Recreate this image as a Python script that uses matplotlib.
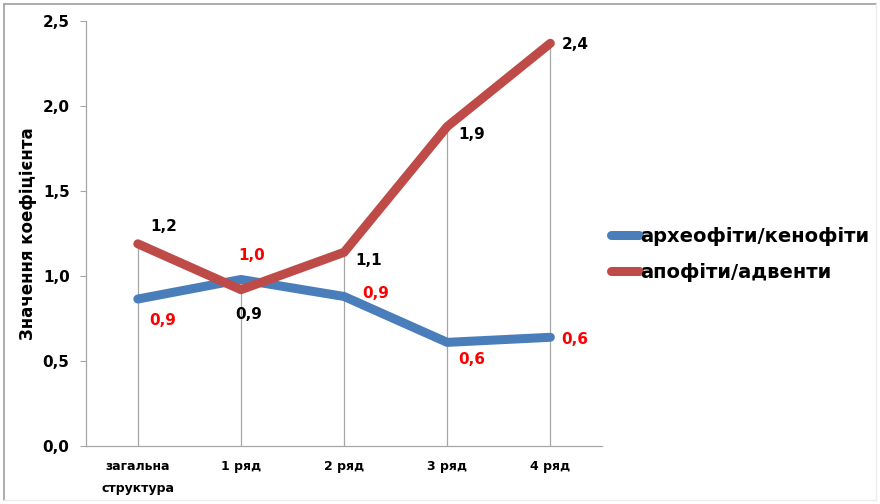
import matplotlib.pyplot as plt
from matplotlib.lines import Line2D

plt.rcParams['font.family'] = ['DejaVu Sans']
plt.rcParams['font.weight'] = 'bold'

categories = ['загальна\nструктура', '1 ряд', '2 ряд', '3 ряд', '4 ряд']
archeo_keno = [0.865, 0.98, 0.88, 0.61, 0.64]
apo_advent = [1.19, 0.92, 1.14, 1.88, 2.37]
archeo_labels = ['0,9', '1,0', '0,9', '0,6', '0,6']
apo_labels = ['1,2', '0,9', '1,1', '1,9', '2,4']
yticks = [0.0, 0.5, 1.0, 1.5, 2.0, 2.5]

blue = '#4a7ebb'
red = '#be4b48'

fig = plt.figure(figsize=(8.8, 5.04), dpi=100)
ax = fig.add_axes([0.098, 0.115, 0.586, 0.843])

x = list(range(len(categories)))

# drop lines from axis to the upper series
tops = [max(a, b) for a, b in zip(archeo_keno, apo_advent)]
ax.vlines(x, 0, tops, color='#a6a6a6', linewidth=0.9, zorder=1)

ax.plot(x, archeo_keno, color=blue, linewidth=6.5, solid_capstyle='round',
        solid_joinstyle='round', label='археофіти/кенофіти', zorder=3)
ax.plot(x, apo_advent, color=red, linewidth=6.5, solid_capstyle='round',
        solid_joinstyle='round', label='апофіти/адвенти', zorder=4)

# value labels (offsets in points)
apo_offsets = [(9, 7), (-4, -23), (8, -11), (8, -11), (8, -6)]
archeo_offsets = [(8, -21), (-2, 12), (13, -3), (8, -18), (8, -7)]
for i, (v, t) in enumerate(zip(apo_advent, apo_labels)):
    ax.annotate(t, (i, v), xytext=apo_offsets[i], textcoords='offset points',
                fontsize=11, fontweight='bold', color='black', va='bottom', ha='left')
for i, (v, t) in enumerate(zip(archeo_keno, archeo_labels)):
    ax.annotate(t, (i, v), xytext=archeo_offsets[i], textcoords='offset points',
                fontsize=11, fontweight='bold', color='#ff0000', va='bottom', ha='left')

ax.set_xlim(-0.5, len(categories) - 0.5)
ax.set_ylim(0, 2.5)
ax.set_yticks(yticks)
ax.set_yticklabels([f'{t:.1f}'.replace('.', ',') for t in yticks],
                   fontsize=11, fontweight='bold')
ax.set_xticks(x)
ax.set_xticklabels(categories, fontsize=9, fontweight='bold', linespacing=1.9)
ax.tick_params(axis='x', length=0, pad=10)
ax.tick_params(axis='y', length=4, color='#a6a6a6', pad=8)

ax.set_ylabel('Значення коефіцієнта', fontsize=12, fontweight='bold', labelpad=4)

for side in ['top', 'right']:
    ax.spines[side].set_visible(False)
ax.spines['left'].set_color('#a6a6a6')
ax.spines['bottom'].set_color('#a6a6a6')
ax.spines['left'].set_linewidth(0.9)
ax.spines['bottom'].set_linewidth(0.9)

fig.legend(loc='center left', bbox_to_anchor=(0.674, 0.495), frameon=False,
           handlelength=1.45, handletextpad=0.05, labelspacing=0.85,
           prop={'weight': 'bold', 'size': 14})

# outer border
fig.add_artist(Line2D([0.004, 0.996], [0.992, 0.992], color='#a0a0a0', linewidth=1.2,
                      transform=fig.transFigure))
fig.add_artist(Line2D([0.004, 0.004], [0.008, 0.992], color='#a0a0a0', linewidth=1.2,
                      transform=fig.transFigure))
fig.add_artist(Line2D([0.995, 0.995], [0.008, 0.992], color='#ececec', linewidth=1,
                      transform=fig.transFigure))
fig.add_artist(Line2D([0.004, 0.996], [0.008, 0.008], color='#ececec', linewidth=1,
                      transform=fig.transFigure))

fig.savefig('out.png', dpi=100)
